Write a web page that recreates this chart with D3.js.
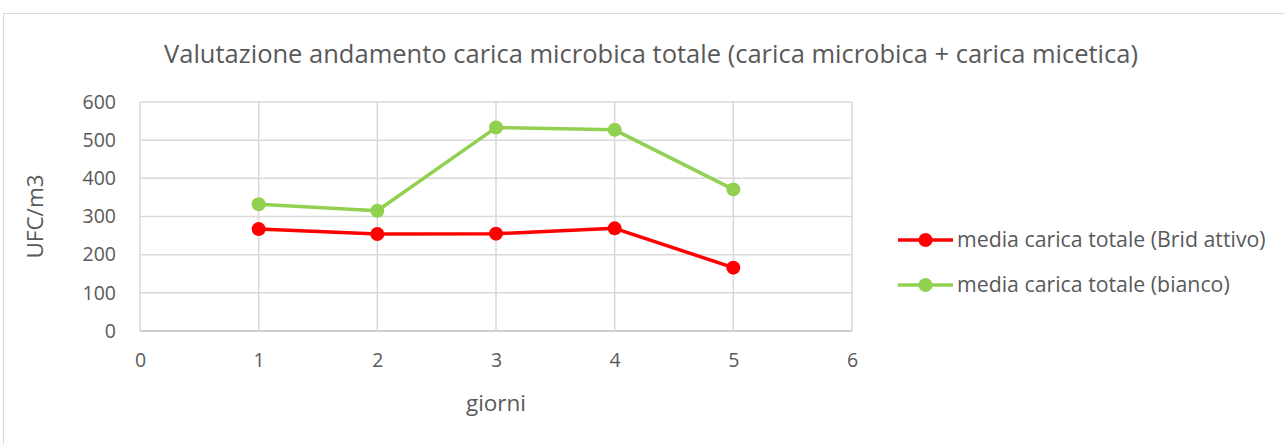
<!DOCTYPE html>
<html>
<head>
<meta charset="utf-8">
<script src="https://cdn.jsdelivr.net/npm/d3@7"></script>
<style>
  body { margin: 0; background: #fff; }
  svg text { font-family: "Open Sans", "Noto Sans", sans-serif; fill: #595959; }
</style>
</head>
<body>
<svg id="chart" width="1284" height="444"></svg>
<script>
// data
const giorni = [1, 2, 3, 4, 5];
const bridAttivo = [267, 254, 255, 269, 166];
const bianco = [332, 315, 533, 527, 371];
const seriesNames = ["media carica totale (Brid attivo)", "media carica totale (bianco)"];
const seriesColors = ["#ff0000", "#92d050"];
const xTicks = [0, 1, 2, 3, 4, 5, 6];
const yTicks = [0, 100, 200, 300, 400, 500, 600];

const svg = d3.select("#chart");

// outer frame
svg.append("rect")
  .attr("x", 3.5).attr("y", 13.5)
  .attr("width", 1290).attr("height", 450)
  .attr("fill", "none").attr("stroke", "#d9d9d9");

const plot = { left: 140, right: 852, top: 102, bottom: 331 };

let x = d3.scaleLinear().domain([0, 6]).range([plot.left, plot.right]);
let y = d3.scaleLinear().domain([0, 600]).range([plot.bottom, plot.top]);

// grid
svg.append("g").selectAll("line").data(yTicks).join("line")
  .attr("x1", plot.left).attr("x2", plot.right)
  .attr("y1", d => y(d)).attr("y2", d => y(d))
  .attr("stroke", d => d === 0 ? "#bfbfbf" : "#d9d9d9")
  .attr("stroke-width", 1.5);

svg.append("g").selectAll("line").data(xTicks).join("line")
  .attr("x1", d => x(d)).attr("x2", d => x(d))
  .attr("y1", plot.top).attr("y2", plot.bottom)
  .attr("stroke", "#d9d9d9")
  .attr("stroke-width", 1.5);

// axes (labels only, grid lines drawn above)
let yAxis = d3.axisLeft(y).tickValues(yTicks).tickSize(0).tickPadding(24).tickFormat(d3.format(""));
let xAxis = d3.axisBottom(x).tickValues(xTicks).tickSize(0).tickPadding(22).tickFormat(d3.format(""));

svg.append("g").attr("transform", `translate(${plot.left},0)`).call(yAxis)
  .call(g => g.select(".domain").remove());

svg.append("g").attr("transform", `translate(0,${plot.bottom})`).call(xAxis)
  .call(g => g.select(".domain").remove());

svg.selectAll(".tick text")
  .attr("font-family", null)
  .attr("font-size", null)
  .attr("fill", null)
  .style("font-size", "19.5px");

// series
const series = [bridAttivo, bianco];
let line = d3.line().x((d, i) => x(giorni[i])).y(d => y(d));

series.forEach((vals, s) => {
  svg.append("path")
    .datum(vals)
    .attr("d", line)
    .attr("fill", "none")
    .attr("stroke", seriesColors[s])
    .attr("stroke-width", 3.5)
    .attr("stroke-linejoin", "round");
  svg.append("g").selectAll("circle").data(vals).join("circle")
    .attr("cx", (d, i) => x(giorni[i]))
    .attr("cy", d => y(d))
    .attr("r", 7)
    .attr("fill", seriesColors[s]);
});

// titles
svg.append("text")
  .attr("x", 651).attr("y", 63)
  .attr("text-anchor", "middle")
  .style("font-size", "25.5px")
  .text("Valutazione andamento carica microbica totale (carica microbica + carica micetica)");

svg.append("text")
  .attr("x", 496).attr("y", 411)
  .attr("text-anchor", "middle")
  .style("font-size", "22.5px")
  .text("giorni");

svg.append("text")
  .attr("transform", `translate(43,${(plot.top + plot.bottom) / 2}) rotate(-90)`)
  .attr("text-anchor", "middle")
  .style("font-size", "22.5px")
  .text("UFC/m3");

// legend
const legend = svg.append("g").selectAll("g").data(seriesNames).join("g")
  .attr("transform", (d, i) => `translate(898,${240 + i * 45})`);
legend.append("line")
  .attr("x1", 0).attr("x2", 55).attr("y1", 0).attr("y2", 0)
  .attr("stroke", (d, i) => seriesColors[i]).attr("stroke-width", 3.5);
legend.append("circle")
  .attr("cx", 27.5).attr("cy", 0).attr("r", 7)
  .attr("fill", (d, i) => seriesColors[i]);
legend.append("text")
  .attr("x", 59).attr("y", 7)
  .style("font-size", "21.3px")
  .text(d => d);
</script>
</body>
</html>
